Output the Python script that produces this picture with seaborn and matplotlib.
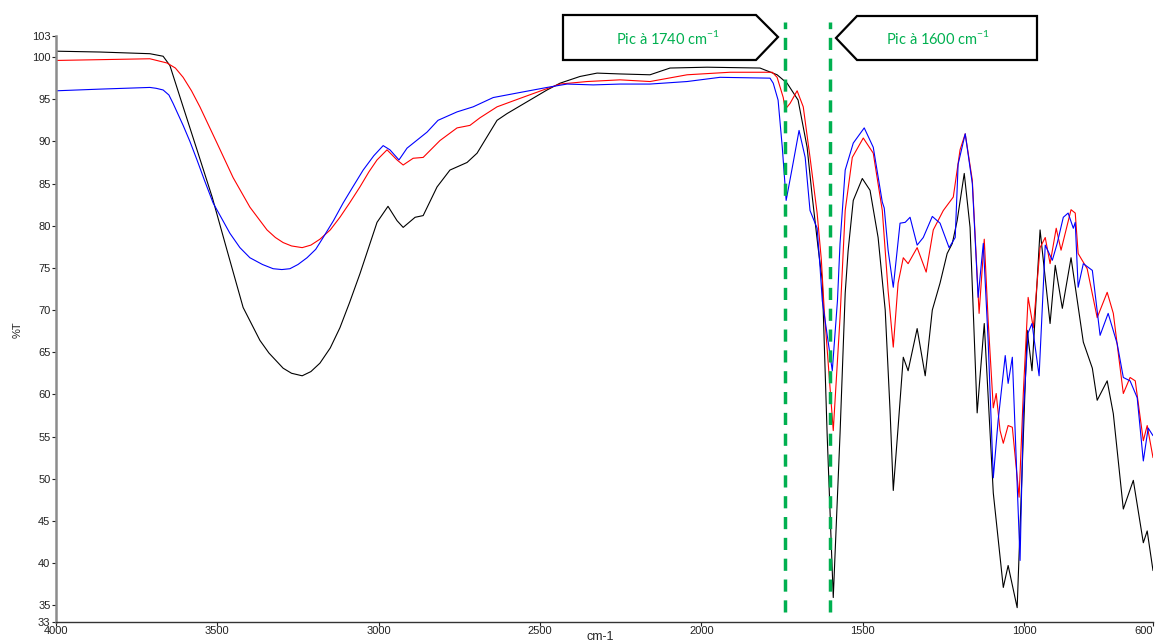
import numpy as np
import pandas as pd
import seaborn as sns
import matplotlib.pyplot as plt
from matplotlib.patches import Polygon

# spectres IR (nombre d'onde cm-1, %T)
black_wn = [4000, 3864, 3709, 3668, 3647, 3606, 3563, 3516, 3470, 3420, 3368, 3340, 3296, 3270,
            3237, 3210, 3182, 3150, 3120, 3090, 3058, 3005, 2971, 2943, 2924, 2887, 2862, 2819,
            2779, 2726, 2695, 2633, 2602, 2540, 2478, 2438, 2376, 2323, 2252, 2159, 2097, 1982,
            1818, 1765, 1734, 1700, 1672, 1656, 1638, 1625, 1610, 1591, 1570, 1554, 1545, 1529,
            1501, 1477, 1452, 1430, 1415, 1405, 1390, 1374, 1359, 1331, 1306, 1284, 1260, 1238,
            1222, 1207, 1185, 1167, 1145, 1123, 1095, 1064, 1049, 1021, 990, 975, 950, 919, 903,
            881, 854, 816, 788, 773, 742, 723, 692, 661, 630, 618, 600]
black_t = [100.7, 100.6, 100.4, 100.1, 99.0, 94.1, 89.0, 83.4, 77.1, 70.3, 66.4, 64.9, 63.1, 62.5,
           62.2, 62.7, 63.7, 65.5, 67.9, 70.9, 74.3, 80.4, 82.3, 80.6, 79.8, 81.0, 81.2, 84.6,
           86.6, 87.5, 88.6, 92.5, 93.3, 94.7, 96.1, 96.9, 97.7, 98.1, 98.0, 97.9, 98.7, 98.8,
           98.7, 97.9, 96.9, 94.9, 89.3, 83.4, 77.4, 73.5, 55.3, 35.9, 55.3, 72.0, 77.0, 83.0,
           85.6, 84.2, 78.6, 70.0, 58.1, 48.6, 56.1, 64.4, 62.8, 67.8, 62.2, 70.0, 73.2, 76.7,
           77.9, 80.6, 86.2, 79.8, 57.8, 68.4, 48.3, 37.1, 39.7, 34.7, 67.6, 62.8, 79.5, 68.4, 75.3,
           70.2, 76.2, 66.2, 63.1, 59.3, 61.6, 57.7, 46.4, 49.8, 42.4, 43.8, 39.1]

red_wn = [4000, 3709, 3656, 3630, 3606, 3580, 3554, 3501, 3451, 3399, 3346, 3320, 3296, 3270,
          3237, 3210, 3182, 3150, 3120, 3090, 3058, 3030, 3005, 2974, 2943, 2924, 2893, 2862,
          2810, 2757, 2717, 2686, 2633, 2562, 2490, 2438, 2354, 2252, 2159, 2044, 1911, 1780,
          1765, 1746, 1740, 1725, 1703, 1684, 1663, 1641, 1628, 1619, 1591, 1570, 1554, 1532,
          1498, 1467, 1439, 1421, 1405, 1390, 1374, 1359, 1331, 1303, 1281, 1250, 1219, 1198,
          1182, 1160, 1139, 1123, 1111, 1095, 1086, 1074, 1064, 1049, 1036, 1015, 1002, 987, 971,
          950, 934, 919, 900, 885, 854, 841, 832, 804, 773, 742, 723, 692, 671, 655, 630, 618, 600]
red_t = [99.6, 99.8, 99.3, 98.7, 97.6, 96.0, 94.1, 89.8, 85.7, 82.2, 79.5, 78.6, 78.0, 77.6,
         77.4, 77.7, 78.4, 79.5, 81.0, 82.7, 84.6, 86.4, 87.8, 89.0, 87.8, 87.2, 88.0, 88.1,
         90.1, 91.6, 91.9, 92.8, 94.1, 95.1, 96.1, 96.8, 97.1, 97.3, 97.1, 97.9, 98.2, 98.2,
         97.6, 95.2, 93.8, 94.5, 96.0, 94.1, 88.1, 81.5, 76.0, 70.0, 55.7, 69.1, 81.8, 88.1,
         90.4, 88.6, 81.8, 72.3, 65.6, 73.2, 76.2, 75.5, 77.4, 74.5, 79.5, 81.8, 83.4, 89.0,
         90.9, 85.4, 69.6, 78.4, 68.8, 58.4, 60.1, 55.7, 54.2, 56.3, 56.1, 47.8, 60.1, 71.5, 67.9,
         77.4, 78.6, 75.5, 79.7, 77.1, 81.9, 81.5, 76.7, 74.9, 69.1, 72.1, 69.6, 60.1, 62.0, 61.6,
         54.5, 56.3, 52.5]

blue_wn = [4000, 3864, 3709, 3690, 3668, 3650, 3637, 3606, 3585, 3563, 3540, 3513, 3461, 3430,
           3399, 3360, 3327, 3300, 3275, 3250, 3222, 3195, 3172, 3140, 3110, 3080, 3048, 3015,
           2986, 2965, 2937, 2912, 2850, 2816, 2757, 2707, 2645, 2562, 2478, 2416, 2335, 2252,
           2159, 2044, 1942, 1787, 1777, 1762, 1749, 1737, 1718, 1697, 1678, 1663, 1641, 1632,
           1625, 1594, 1578, 1570, 1554, 1529, 1495, 1467, 1439, 1433, 1421, 1405, 1384, 1368,
           1353, 1331, 1312, 1284, 1260, 1232, 1213, 1204, 1182, 1160, 1142, 1126, 1111, 1095,
           1080, 1058, 1049, 1036, 1012, 1002, 987, 975, 953, 934, 912, 897, 878, 863, 847, 841,
           832, 816, 788, 764, 739, 711, 692, 671, 649, 630, 615, 600]
blue_t = [96.0, 96.2, 96.4, 96.3, 96.1, 95.5, 94.5, 91.9, 90.0, 87.8, 85.4, 82.7, 79.1, 77.4,
          76.2, 75.4, 74.9, 74.8, 74.9, 75.4, 76.2, 77.2, 78.6, 80.6, 82.7, 84.6, 86.6, 88.3,
          89.5, 89.0, 87.8, 89.2, 91.1, 92.5, 93.5, 94.1, 95.2, 95.8, 96.4, 96.8, 96.7, 96.8,
          96.8, 97.1, 97.6, 97.5, 96.9, 94.9, 89.3, 83.0, 86.9, 91.3, 88.1, 81.8, 79.7, 75.1,
          71.1, 62.8, 71.1, 77.9, 86.6, 89.8, 91.6, 89.3, 82.8, 82.1, 77.1, 72.7, 80.3, 80.4,
          81.0, 77.7, 78.6, 81.1, 80.3, 77.4, 78.6, 87.3, 90.9, 85.0, 71.5, 77.9, 66.4, 50.1,
          56.9, 64.6, 61.3, 64.4, 40.3, 57.7, 67.3, 68.4, 62.2, 77.7, 75.9, 77.9, 81.0, 81.5, 79.7,
          80.4, 72.7, 75.5, 74.7, 67.0, 69.6, 66.0, 62.0, 61.6, 59.6, 52.1, 56.0, 55.1]

peaks = [1740, 1600]
peak_labels = [r"Pic à 1740 cm$^{-1}$", r"Pic à 1600 cm$^{-1}$"]
x_ticks = [4000, 3500, 3000, 2500, 2000, 1500, 1000, 600]
y_ticks = [33, 35, 40, 45, 50, 55, 60, 65, 70, 75, 80, 85, 90, 95, 100, 102.5]
y_ticklabels = ["33", "35", "40", "45", "50", "55", "60", "65", "70", "75", "80", "85",
                "90", "95", "100", "103"]

sns.set_style("white")
plt.rcParams["font.family"] = ["Liberation Sans", "DejaVu Sans"]
plt.rcParams["mathtext.fontset"] = "custom"
plt.rcParams["mathtext.rm"] = "Lato"

W, H = 1158, 644
fig = plt.figure(figsize=(W / 100, H / 100), dpi=100)
ax = fig.add_axes([56 / W, 1 - 622 / H, (1153 - 56) / W, (622 - 36) / H])

for wn, t, c in [(black_wn, black_t, "black"), (red_wn, red_t, "#ff0000"), (blue_wn, blue_t, "#0000ff")]:
    sns.lineplot(x=wn, y=t, color=c, lw=0.8, ax=ax, estimator=None, sort=False)

green = "#00b050"
for p in peaks:
    ax.axvline(p, color=green, lw=2.5, ls=(0, (3.5, 2.5)), ymin=0.017, ymax=1.024, clip_on=False)

ax.set_xlim(4000, 600)
ax.set_ylim(33, 102.5)
ax.set_xticks(x_ticks)
ax.set_xticklabels([str(v) for v in x_ticks])
ax.set_yticks(y_ticks)
ax.set_yticklabels(y_ticklabels)
ax.tick_params(axis="both", direction="out", length=3, width=0.8, labelsize=8,
               colors="#222222", pad=1, bottom=True, left=True)
ax.tick_params(axis="x", pad=0)
ax.get_xticklabels()[-1].set_horizontalalignment("right")
for s in ["top", "right"]:
    ax.spines[s].set_visible(False)
ax.spines["left"].set_color("#8c8c8c")
ax.spines["left"].set_linewidth(1.8)
ax.spines["bottom"].set_color("#333333")
ax.spines["bottom"].set_linewidth(1.0)

fig.text(18 / W, 1 - 330 / H, "%T", rotation=90, ha="center", va="center", fontsize=8)
fig.text(600 / W, 1 - 637 / H, "cm-1", ha="center", va="center", fontsize=9)

# bulles (formes en fleche) en pixels de la figure
def px(pts):
    return [(x / W, 1 - y / H) for x, y in pts]

box1 = px([(563, 15), (756, 15), (778, 37), (756, 60), (563, 60)])
box2 = px([(857, 16), (1037, 16), (1037, 60), (857, 60), (836, 38)])
for pts in [box1, box2]:
    fig.patches.append(Polygon(pts, closed=True, fill=True, facecolor="white",
                               edgecolor="black", lw=1.6, transform=fig.transFigure))

fig.text(668 / W, 1 - 38 / H, peak_labels[0], ha="center", va="center", fontsize=10.5,
         color=green, family=["Lato", "DejaVu Sans"])
fig.text(938 / W, 1 - 38 / H, peak_labels[1], ha="center", va="center", fontsize=10.5,
         color=green, family=["Lato", "DejaVu Sans"])

fig.savefig("out.png", dpi=100)
